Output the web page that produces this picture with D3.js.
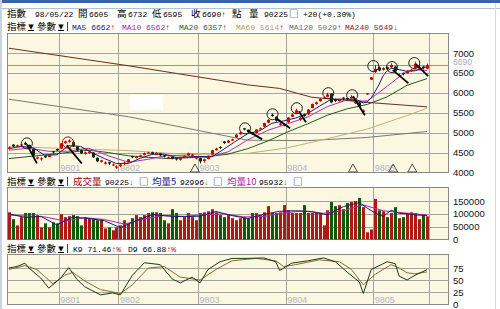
<!DOCTYPE html>
<html>
<head>
<meta charset="utf-8">
<script src="https://cdn.jsdelivr.net/npm/d3@7"></script>
<style>
body { margin: 0; background: #fff; }
svg { display: block; }
</style>
</head>
<body>
<svg width="500" height="309"></svg>
<script>
// ---- data (TAIEX daily, 97/12 .. 98/05/22) ----
const monthLabels = ["9801", "9802", "9803", "9804", "9805"];
const monthStart = [13, 28, 48, 70, 92];   // bar index where each month starts

const opens = [4590,4700,4650,4680,4740,4690,4590,4350,4330,4410, 4390,4530,4590,4600,4740,4770,4760,4650,4560,4470,
  4490,4500,4370,4270,4220,4260,4180,4120,4160,4210, 4260,4410,4370,4400,4440,4470,4510,4460,4480,4430,
  4360,4390,4360,4320,4370,4430,4420,4350,4360,4290, 4340,4450,4560,4640,4780,4750,4800,4880,4960,5110,
  5070,5010,4990,5080,5150,5250,5450,5400,5200,5180, 5260,5400,5500,5330,5460,5460,5620,5720,5790,5850,
  5900,5980,5840,5790,5880,5870,5860,5740,5760,5520, 5960,6330,6520,6640,6580,6640,6640,6660,6420,6500,
  6490,6550,6620,6610,6660,6605];
const highs = [4650,4710,4700,4720,4770,4700,4600,4400,4380,4420, 4440,4540,4600,4740,4800,4830,4780,4660,4570,4520,
  4550,4510,4380,4320,4280,4270,4230,4180,4220,4270, 4340,4420,4420,4450,4500,4520,4520,4510,4490,4440,
  4400,4400,4370,4380,4430,4500,4470,4400,4370,4350, 4430,4570,4620,4660,4790,4820,4850,4960,5020,5120,
  5080,5020,5090,5130,5250,5340,5480,5410,5260,5230, 5390,5480,5600,5400,5480,5590,5730,5780,5870,5900,
  6000,5990,5850,5850,5890,5880,5940,5800,5770,5580, 5992,6395,6700,6660,6640,6660,6740,6670,6480,6510,
  6560,6600,6780,6690,6670,6732];
const lows = [4580,4640,4640,4670,4690,4590,4420,4330,4300,4360, 4380,4480,4540,4590,4720,4750,4640,4540,4460,4450,
  4480,4370,4260,4250,4200,4190,4160,4090,4140,4190, 4250,4360,4350,4390,4430,4460,4450,4440,4410,4380,
  4340,4330,4300,4300,4360,4420,4400,4330,4230,4250, 4330,4440,4550,4590,4720,4740,4790,4870,4950,5060,
  5000,4940,4980,5070,5140,5240,5400,5280,5180,5160, 5250,5390,5480,5300,5400,5450,5610,5700,5780,5840,
  5890,5740,5770,5780,5830,5810,5850,5720,5630,5480, 5950,6320,6500,6540,6560,6580,6620,6520,6400,6440,
  6480,6530,6610,6600,6590,6595];
const closes = [4630,4655,4680,4705,4700,4605,4430,4380,4355,4380, 4430,4505,4555,4730,4780,4805,4655,4555,4480,4505,
  4530,4380,4280,4305,4250,4225,4200,4150,4200,4250, 4330,4380,4400,4430,4480,4500,4470,4490,4430,4400,
  4380,4350,4330,4360,4420,4480,4450,4380,4280,4330, 4420,4560,4600,4620,4740,4800,4830,4950,5000,5080,
  5020,4960,5080,5110,5240,5320,5420,5300,5230,5210, 5380,5460,5560,5370,5420,5580,5720,5760,5850,5880,
  5960,5760,5800,5830,5860,5840,5900,5780,5650,5560, 5992,6390,6600,6560,6620,6600,6700,6540,6450,6470,
  6540,6580,6730,6650,6620,6690];
const volumes = [106000,79000,55000,87000,103000,103000,103000,95000,47000,63000,
  47000,67000,63000,99000,87000,91000,95000,91000,55000,87000,
  83000,83000,75000,79000,43000,47000,36000,47000,55000,75000,
  63000,83000,95000,87000,95000,103000,106000,106000,103000,75000,
  63000,118000,103000,75000,87000,103000,87000,75000,103000,106000,
  110000,118000,106000,95000,87000,95000,83000,75000,83000,87000,
  83000,103000,103000,95000,106000,130000,103000,103000,106000,134000,
  114000,103000,103000,103000,134000,103000,103000,103000,103000,55000,
  114000,146000,130000,134000,118000,142000,146000,150000,162000,126000,
  28000,39000,158000,114000,110000,87000,103000,126000,83000,87000,
  103000,106000,103000,79000,95000,90225];

// moving averages, [bar index, value]
const ma5 = [[0,4600],[3,4654],[6,4624],[9,4430],[12,4445],[15,4675],[18,4655],[21,4490],[24,4349],[27,4226],
  [30,4226],[33,4358],[36,4456],[39,4458],[42,4378],[45,4388],[48,4402],[51,4394],[54,4588],[57,4788],
  [60,4976],[63,5050],[66,5234],[69,5296],[72,5368],[75,5478],[78,5666],[81,5842],[84,5842],[87,5842],
  [89,5746],[90,5776],[91,5874],[92,6038],[93,6220],[94,6432],[95,6554],[96,6616],[98,6582],[100,6540],
  [102,6554],[104,6624],[105,6662]];
const ma10 = [[0,4560],[5,4610],[10,4532],[15,4535],[20,4610],[25,4417],[30,4257],[35,4332],[40,4436],[45,4411],
  [50,4380],[55,4518],[60,4820],[65,5059],[70,5225],[75,5393],[80,5656],[85,5826],[89,5794],[90,5797],
  [92,5940],[95,6165],[98,6401],[100,6547],[102,6579],[105,6562]];
const ma20 = [[0,4350],[10,4450],[20,4560],[25,4500],[30,4420],[35,4380],[40,4350],[45,4370],[50,4400],[55,4460],
  [60,4600],[65,4790],[70,5020],[75,5220],[80,5440],[85,5600],[90,5710],[95,5900],[100,6190],[105,6357]];
const ma60 = [[0,4650],[15,4600],[30,4550],[45,4450],[60,4480],[70,4620],[80,4850],[90,5090],[100,5430],[105,5614]];
const ma120 = [[0,5840],[30,5400],[60,4810],[75,4800],[90,4880],[105,5029]];
const ma240 = [[0,7120],[30,6680],[60,6200],[68,6110],[76,5890],[90,5760],[105,5649]];

const volMa5 = [[0,100000],[4,86000],[8,90000],[12,57000],[16,87000],[20,82000],[24,73000],[28,46000],[32,74000],
  [36,97000],[40,91000],[44,89000],[48,91000],[52,109000],[56,93000],[60,82000],[64,98000],[68,110000],
  [72,112000],[76,109000],[80,96000],[84,128000],[88,144000],[90,122000],[92,103000],[94,90000],
  [96,114000],[98,102000],[100,100000],[102,96000],[105,92996]];
const volMa10 = [[0,95000],[9,88000],[14,72000],[19,85000],[24,78000],[29,60000],[34,80000],[39,94000],
  [44,90000],[49,97000],[54,100000],[59,88000],[64,90000],[69,104000],[74,111000],[79,102000],
  [84,112000],[89,135000],[94,112000],[99,104000],[105,95932]];

const kLine = [[0,75],[2,78],[4,85],[5,75],[8,54],[10,33],[13,54],[15,76],[17,52],[19,36],[23,19],[26,23],
  [28,19],[29,33],[31,60],[34,86],[38,82],[39,72],[41,52],[43,44],[46,56],[48,44],[50,72],[53,88],[56,95],
  [60,95],[64,96],[67,88],[68,70],[71,85],[75,90],[79,96],[82,88],[85,66],[88,46],[89,22],[91,72],[95,88],
  [97,84],[98,58],[100,50],[102,60],[105,71.46]];
const dLine = [[0,72],[4,80],[7,72],[11,42],[14,60],[16,66],[19,48],[23,30],[28,22],[31,40],[35,75],[39,78],
  [43,56],[48,50],[52,72],[56,90],[62,95],[67,90],[69,78],[72,82],[78,92],[83,88],[86,72],[89,40],[92,62],
  [96,82],[98,75],[100,65],[102,63],[105,66.88]];

// hand-drawn marks on the chart
const circleIdx = [4.5, 14.8, 59.3, 66.2, 72.3, 80.2, 86.2, 91.5, 96.2, 101.8];
const circlePrice = [4731, 4756, 5109, 5462, 5613, 5992, 5941, 6672, 6647, 6748];
const trendLines = [[4.5,4706,7.0,4227],[14.5,4681,18.3,4227],[59.8,5059,63.6,4832],[67.1,5361,70.6,5109],
  [72.8,5538,74.6,5260],[86.4,5916,89.4,5437],[96.4,6571,100.3,6244],[102.2,6723,105.3,6420]];
const triangleIdx = [46.7, 86.4, 96.5, 101.3];

const priceTicks = [7000, 6500, 6000, 5500, 5000, 4500, 4000];
const volTicks = [150000, 100000, 50000, 0];
const kdTicks = [75, 50, 25, 0];
const lastClose = 6690;

// ---- layout ----
const L = 7, R = 449;
const main = { top: 33, bottom: 173 };
const vol = { top: 187, bottom: 240 };
const kd = { top: 254, bottom: 305 };
const BG = "#fcf7e1", GRID = "#a4a4a4", RED = "#d00000", DARK = "#0b2a0b";

const svg = d3.select("svg");
const x = d3.scaleLinear().domain([-0.5, 105.5]).range([L, 429]);
const yP = d3.scaleLinear().domain([4000, 7000]).range([172.5, 53]);
const yV = d3.scaleLinear().domain([0, 150000]).range([239.5, 201]);
const yK = d3.scaleLinear().domain([0, 75]).range([304, 268]);
const bars = d3.range(closes.length);
const up = i => closes[i] >= opens[i];

// window chrome
svg.append("rect").attr("width", 500).attr("height", 309).attr("fill", "#fff");
svg.append("rect").attr("width", 500).attr("height", 3).attr("fill", "#3a64a8");
svg.append("line").attr("x1", 0).attr("x2", 500).attr("y1", 8.5).attr("y2", 8.5).attr("stroke", "#b8c0cc");
svg.append("rect").attr("x", 0).attr("y", 0).attr("width", 2).attr("height", 309).attr("fill", "#c9d3e2");
svg.append("line").attr("x1", 495.5).attr("x2", 495.5).attr("y1", 3).attr("y2", 309).attr("stroke", "#d8d8d8");

// panels with grids
function panel(p, yScale, ticks) {
  const g = svg.append("g");
  g.append("rect").attr("x", L).attr("y", p.top).attr("width", R - L).attr("height", p.bottom - p.top)
    .attr("fill", BG);
  g.selectAll("line.h").data(ticks.filter(t => yScale(t) > p.top + 2 && yScale(t) < p.bottom - 2)).join("line")
    .attr("x1", L).attr("x2", R)
    .attr("y1", d => Math.round(yScale(d)) + 0.5).attr("y2", d => Math.round(yScale(d)) + 0.5)
    .attr("stroke", GRID);
  g.selectAll("line.v").data(monthStart.concat([106])).join("line")
    .attr("x1", d => Math.round(x(d - 0.5)) + 0.5).attr("x2", d => Math.round(x(d - 0.5)) + 0.5)
    .attr("y1", p.top).attr("y2", p.bottom)
    .attr("stroke", GRID);
  g.append("rect").attr("x", L + 0.5).attr("y", p.top + 0.5).attr("width", R - L - 1)
    .attr("height", p.bottom - p.top - 1).attr("fill", "none").attr("stroke", "#8a8a8a");
  return g;
}
panel(main, yP, priceTicks);
panel(vol, yV, volTicks);
panel(kd, yK, kdTicks);

// month labels
function monthText(yy) {
  svg.append("g").selectAll("text").data(monthLabels).join("text")
    .attr("x", (d, i) => x(monthStart[i] - 0.5) + 1.5).attr("y", yy)
    .attr("font-family", "Liberation Sans").attr("font-size", 9).attr("fill", "#b0b6c8")
    .text(d => d);
}
monthText(171);
monthText(303);

// white box inside the main panel
svg.append("rect").attr("x", 130).attr("y", 95).attr("width", 33).attr("height", 15).attr("fill", "#fff");

// clip for main panel
svg.append("clipPath").attr("id", "cm").append("rect")
  .attr("x", L).attr("y", main.top).attr("width", R - L).attr("height", main.bottom - main.top);
const gm = svg.append("g").attr("clip-path", "url(#cm)");

// last close line
gm.append("line").attr("x1", L).attr("x2", R)
  .attr("y1", Math.round(yP(lastClose)) + 0.5).attr("y2", Math.round(yP(lastClose)) + 0.5)
  .attr("stroke", "#8797aa");

// moving averages
const pLine = d3.line().x(d => x(d[0])).y(d => yP(d[1]));
[[ma240, "#6e2a22"], [ma120, "#7a7a72"], [ma60, "#c4b070"], [ma20, "#1f5a1f"], [ma10, "#b030b0"], [ma5, "#1a1a80"]]
  .forEach(([pts, c]) => {
    gm.append("path").attr("d", pLine(pts)).attr("fill", "none").attr("stroke", c).attr("stroke-width", 1);
  });

// candles
gm.selectAll("line.wick").data(bars).join("line")
  .attr("x1", i => Math.round(x(i)) + 0.5).attr("x2", i => Math.round(x(i)) + 0.5)
  .attr("y1", i => yP(highs[i])).attr("y2", i => yP(lows[i]))
  .attr("stroke", i => up(i) ? RED : DARK);
gm.selectAll("rect.body").data(bars).join("rect")
  .attr("x", i => Math.round(x(i)) - 1).attr("width", 3)
  .attr("y", i => yP(Math.max(opens[i], closes[i])))
  .attr("height", i => Math.max(1, Math.abs(yP(opens[i]) - yP(closes[i]))))
  .attr("fill", i => up(i) ? RED : DARK);

// annotations
gm.selectAll("line.trend").data(trendLines).join("line")
  .attr("x1", d => x(d[0])).attr("y1", d => yP(d[1]))
  .attr("x2", d => x(d[2])).attr("y2", d => yP(d[3]))
  .attr("stroke", "#000").attr("stroke-width", 1.8);
gm.selectAll("circle").data(circleIdx).join("circle")
  .attr("cx", d => x(d)).attr("cy", (d, i) => yP(circlePrice[i])).attr("r", 5.5)
  .attr("fill", "none").attr("stroke", (d, i) => i === 1 ? "#c00000" : "#222").attr("stroke-width", 1);
gm.selectAll("path.tri").data(triangleIdx).join("path")
  .attr("d", d => `M${x(d) - 4.5},172 L${x(d)},164 L${x(d) + 4.5},172 Z`)
  .attr("fill", "none").attr("stroke", "#505050");

// volume
svg.append("g").selectAll("rect").data(bars).join("rect")
  .attr("x", i => Math.round(x(i)) - 1).attr("width", 3)
  .attr("y", i => yV(volumes[i])).attr("height", i => yV(0) - yV(volumes[i]))
  .attr("fill", i => up(i) ? "#b01818" : "#0d5a0d");
const vLine = d3.line().x(d => x(d[0])).y(d => yV(d[1]));
svg.append("path").attr("d", vLine(volMa10)).attr("fill", "none").attr("stroke", "#c020b0");
svg.append("path").attr("d", vLine(volMa5)).attr("fill", "none").attr("stroke", "#1a1a70");

// KD
const kdLine = d3.line().x(d => x(d[0])).y(d => yK(d[1]));
svg.append("path").attr("d", kdLine(dLine)).attr("fill", "none").attr("stroke", "#8a6a30");
svg.append("path").attr("d", kdLine(kLine)).attr("fill", "none").attr("stroke", "#163c16");

// right-hand axes
function rightAxis(scale, ticks) {
  const g = svg.append("g").attr("transform", `translate(${R},0)`)
    .call(d3.axisRight(scale).tickValues(ticks).tickSize(0).tickPadding(4).tickFormat(d3.format("d")));
  g.select(".domain").remove();
  g.selectAll("text").attr("font-family", "Liberation Sans").attr("font-size", 9.5).attr("fill", "#111");
  return g;
}
rightAxis(yP, priceTicks);
rightAxis(yV, volTicks);
rightAxis(yK, kdTicks);
svg.append("text").attr("x", R + 4).attr("y", yP(lastClose) - 3).attr("dy", "0.32em")
  .attr("font-family", "Liberation Sans").attr("font-size", 8.5).attr("fill", "#a8acb4").text(lastClose);

// header texts
function txt(xx, yy, parts) {
  const t = svg.append("text").attr("x", xx).attr("y", yy);
  parts.forEach(([s, c]) => {
    const cjk = /[\u2E80-\u9FFF\u25A1]/.test(s);
    t.append("tspan").text(s).attr("fill", c || "#000")
      .attr("font-family", cjk ? "Noto Sans CJK TC" : "Liberation Mono")
      .attr("font-size", cjk ? 9.5 : 8);
  });
}
function dropdowns(yy) {
  txt(7, yy, [["指標"]]);
  txt(37, yy, [["參數"]]);
  [27, 57].forEach(bx => {
    svg.append("text").attr("x", bx + 4).attr("y", yy - 1).attr("text-anchor", "middle")
      .attr("font-family", "DejaVu Sans").attr("font-size", 7).text("▼");
    svg.append("line").attr("x1", bx + 1).attr("x2", bx + 7).attr("y1", yy + 0.5).attr("y2", yy + 0.5)
      .attr("stroke", "#000");
  });
  svg.append("line").attr("x1", 67.5).attr("x2", 67.5).attr("y1", yy - 8).attr("y2", yy + 1).attr("stroke", "#444");
}
const UPC = "#cc0000", DNC = "#008000";

txt(7, 17, [["指數"]]);
txt(35, 17, [["98/05/22"]]);
txt(78, 17, [["開"]]); txt(89, 17, [["6605"]]);
txt(117, 17, [["高"]]); txt(128, 17, [["6732"]]);
txt(152, 17, [["低"]]); txt(163, 17, [["6595"]]);
txt(191, 17, [["收"]]); txt(202, 17, [["6690"], ["↑", UPC]]);
txt(232, 17, [["點"]]); txt(249, 17, [["量"]]);
txt(264, 17, [["90225"]]); txt(289, 17, [["□"]]);
txt(303, 17, [["+20(+0.30%)"]]);

dropdowns(30);
txt(72, 30, [["MA5 6662", "#1a1a80"], ["↑", UPC]]);
txt(122, 30, [["MA10 6562", "#b020b0"], ["↑", UPC]]);
txt(179, 30, [["MA20 6357", "#1f6a1f"], ["↑", UPC]]);
txt(236, 30, [["MA60 5614", "#c0a050"], ["↑", UPC]]);
txt(289, 30, [["MA120 5029", "#70707a"], ["↑", UPC]]);
txt(345, 30, [["MA240 5649", "#a01818"], ["↓", DNC]]);

dropdowns(185);
txt(73, 185, [["成交量", "#a00000"]]);
txt(105, 185, [["90225"], ["↓", DNC]]);
txt(139, 185, [["□"]]);
txt(152, 185, [["均量5", "#1a1a80"]]);
txt(180, 185, [["92996"], ["↓", DNC]]);
txt(213, 185, [["□"]]);
txt(227, 185, [["均量10", "#b020b0"]]);
txt(259, 185, [["95932"], ["↓", DNC]]);
txt(293, 185, [["□"]]);

dropdowns(252);
txt(73, 252, [["K9 71.46"], ["↑", UPC], ["%", UPC]]);
txt(128, 252, [["D9 66.88"], ["↑", UPC], ["%", UPC]]);
</script>
</body>
</html>
